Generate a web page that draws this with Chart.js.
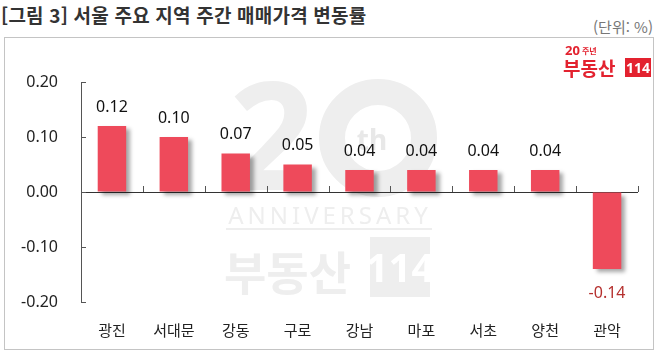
<!DOCTYPE html>
<html lang="ko">
<head>
<meta charset="UTF-8">
<title>서울 주요 지역 주간 매매가격 변동률</title>
<style>
  * { margin: 0; padding: 0; box-sizing: border-box; }
  body { width: 658px; height: 352px; background: #fff; overflow: hidden; position: relative; font-family: 'Noto Sans CJK KR', 'Noto Sans', sans-serif; }
  .title { position: absolute; left: 1px; top: 1px; font-size: 19px; font-weight: bold; color: #333; letter-spacing: 0.2px; }
  .unit { position: absolute; right: 5px; top: 16px; font-size: 15px; color: #777; }
  .box { position: absolute; left: 4px; top: 37px; width: 650px; height: 313px; border: 1px solid #c4c4c4; }
  #chart { position: absolute; left: 0; top: 0; }
</style>
</head>
<body>
  <div class="title">[그림 3] 서울 주요 지역 주간 매매가격 변동률</div>
  <div class="unit">(단위: %)</div>
  <div class="box"></div>
  <canvas id="chart" width="658" height="352"></canvas>

<script src="https://cdn.jsdelivr.net/npm/chart.js@4.4.1/dist/chart.umd.min.js"></script>
<script>
  const regions = ['광진', '서대문', '강동', '구로', '강남', '마포', '서초', '양천', '관악'];
  const changes = [0.12, 0.10, 0.07, 0.05, 0.04, 0.04, 0.04, 0.04, -0.14];
  const yTicks = [-0.20, -0.10, 0.00, 0.10, 0.20];

  const isZero = v => Math.abs(v) < 1e-9;

  // faint "20th ANNIVERSARY 부동산114" watermark behind the bars
  const watermark = {
    id: 'watermark',
    beforeDraw(chart) {
      const c = chart.ctx;
      c.save();
      c.fillStyle = '#eeeeee';
      c.strokeStyle = '#eeeeee';
      c.font = 'bold 150px "Noto Sans"';
      c.textAlign = 'center';
      c.textBaseline = 'alphabetic';
      c.fillText('2', 272, 190);
      c.lineWidth = 26;
      c.beginPath();
      c.arc(378, 138, 46, 0, Math.PI * 2);
      c.stroke();
      c.fillStyle = '#e8e8e8';
      c.font = 'bold 28px "Noto Sans"';
      c.fillText('th', 372, 150);
      c.fillStyle = '#eeeeee';
      c.font = '24px "Noto Sans"';
      c.letterSpacing = '4px';
      c.fillText('ANNIVERSARY', 330, 224);
      c.letterSpacing = '0px';
      c.fillRect(226, 228, 206, 2);
      c.font = 'bold 46px "Noto Sans CJK KR"';
      c.textAlign = 'left';
      c.fillText('부동산', 224, 290);
      c.fillRect(370, 237, 60, 60);
      c.fillStyle = '#ffffff';
      c.font = 'bold 40px "Noto Sans"';
      c.textAlign = 'center';
      c.fillText('114', 400, 282);
      c.restore();
    }
  };

  // inward tick marks on both axes
  const axisTicks = {
    id: 'axisTicks',
    afterDraw(chart) {
      const c = chart.ctx;
      const xs = chart.scales.x, ys = chart.scales.y;
      const y0 = ys.getPixelForValue(0);
      const n = regions.length;
      c.save();
      c.strokeStyle = '#555';
      c.lineWidth = 1;
      c.beginPath();
      for (let i = 1; i <= n; i++) {
        const x = Math.round(xs.left + i * xs.width / n) + 0.5;
        c.moveTo(x, y0);
        c.lineTo(x, y0 - 6);
      }
      yTicks.forEach(v => {
        const y = Math.round(ys.getPixelForValue(v)) + 0.5;
        c.moveTo(xs.left, y);
        c.lineTo(xs.left + 5, y);
      });
      c.stroke();
      c.restore();
    }
  };

  const barShadow = {
    id: 'barShadow',
    beforeDatasetsDraw(chart) {
      const c = chart.ctx;
      c.save();
      c.shadowColor = 'rgba(0, 0, 0, 0.35)';
      c.shadowOffsetX = 4;
      c.shadowOffsetY = 3;
      c.shadowBlur = 4;
    },
    afterDatasetsDraw(chart) {
      chart.ctx.restore();
    }
  };

  const valueLabels = {
    id: 'valueLabels',
    afterDatasetsDraw(chart) {
      const c = chart.ctx;
      const meta = chart.getDatasetMeta(0);
      c.save();
      c.font = '16px "Noto Sans"';
      c.textAlign = 'center';
      c.textBaseline = 'middle';
      meta.data.forEach((bar, i) => {
        const v = changes[i];
        if (v >= 0) {
          c.fillStyle = '#111';
          c.fillText(v.toFixed(2), bar.x, bar.y - 19);
        } else {
          c.fillStyle = '#b5302e';
          c.fillText(v.toFixed(2), bar.x, bar.y + 24);
        }
      });
      c.restore();
    }
  };

  const logo = {
    id: 'logo',
    afterDraw(chart) {
      const c = chart.ctx;
      c.save();
      c.fillStyle = '#e3222f';
      c.textBaseline = 'alphabetic';
      c.font = 'bold 13px "Noto Sans"';
      c.fillText('20', 565, 55);
      c.font = 'bold 8px "Noto Sans CJK KR"';
      c.fillText('주년', 582, 54);
      c.font = 'bold 19px "Noto Sans CJK KR"';
      c.fillText('부동산', 563, 76);
      c.fillRect(625, 58, 26, 19);
      c.fillStyle = '#fff';
      c.font = 'bold 14px "Noto Sans"';
      c.textAlign = 'center';
      c.fillText('114', 638, 73);
      c.restore();
    }
  };

  new Chart(document.getElementById('chart'), {
    type: 'bar',
    data: {
      labels: regions,
      datasets: [{
        data: changes,
        backgroundColor: '#ee4a5b',
        borderWidth: 0,
        categoryPercentage: 1,
        barPercentage: 0.46
      }]
    },
    options: {
      responsive: false,
      animation: false,
      layout: { padding: { left: 0, right: 20, top: 82, bottom: 0 } },
      plugins: { legend: { display: false }, tooltip: { enabled: false } },
      scales: {
        x: {
          grid: { display: false, drawTicks: false },
          border: { display: false },
          ticks: { font: { size: 15, family: 'Noto Sans CJK KR' }, color: '#222', padding: 19 },
          afterFit(scale) { scale.height = 50; }
        },
        y: {
          min: -0.2,
          max: 0.2,
          ticks: {
            stepSize: 0.1,
            font: { size: 16, family: 'Noto Sans' },
            color: '#222',
            padding: 23,
            callback: v => isZero(v) ? '0.00' : v.toFixed(2)
          },
          grid: {
            drawTicks: false,
            color: ctx => isZero(ctx.tick.value) ? '#333' : 'rgba(0,0,0,0)'
          },
          border: { display: true, color: '#555' },
          afterFit(scale) { scale.width = 81; }
        }
      }
    },
    plugins: [watermark, barShadow, valueLabels, axisTicks, logo]
  });
</script>
</body>
</html>
